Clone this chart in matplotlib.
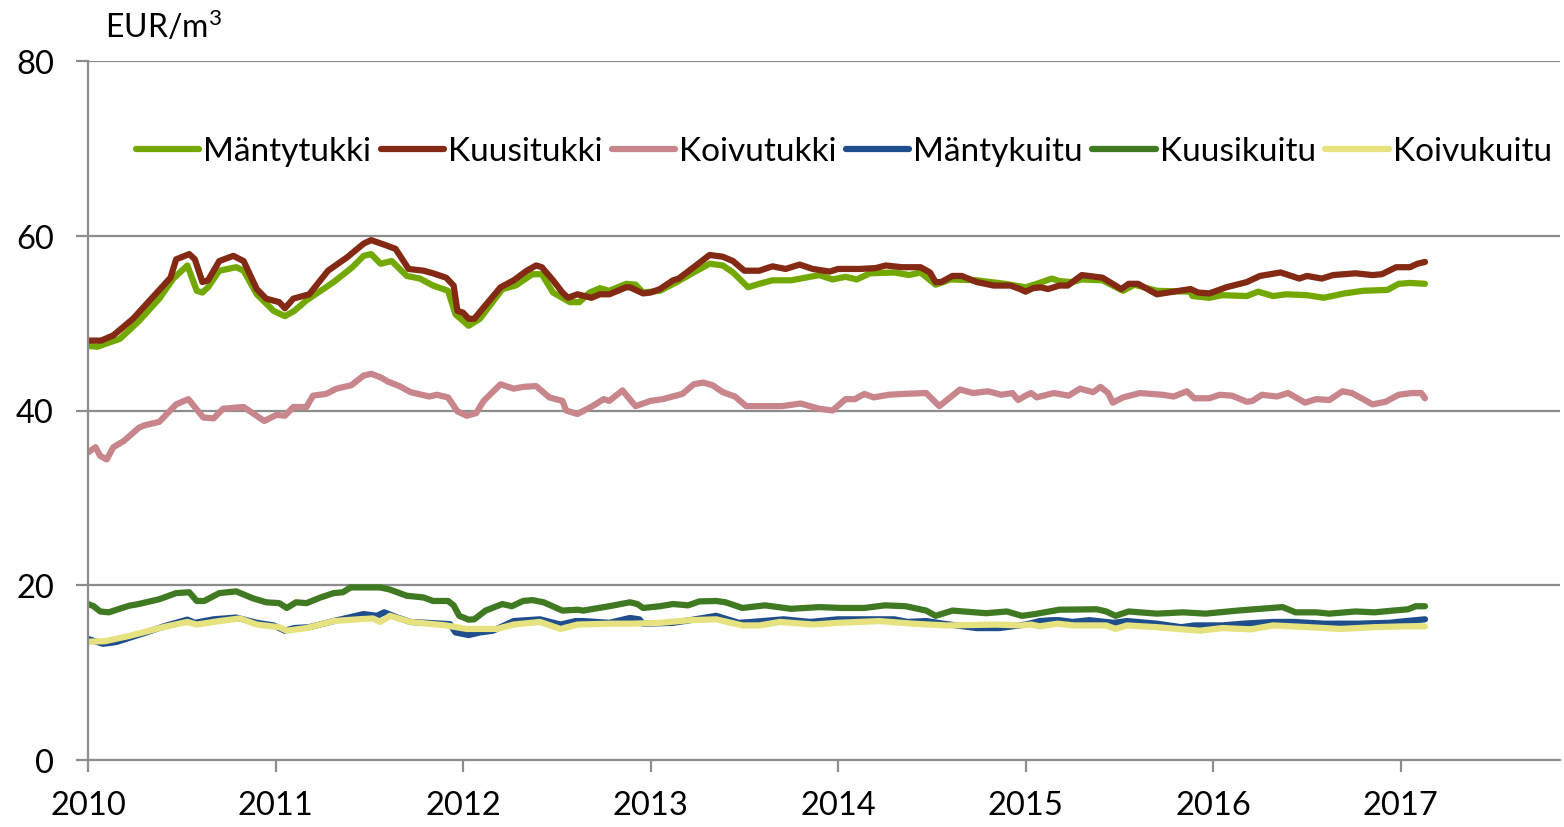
import matplotlib
matplotlib.use('Agg')
import matplotlib.pyplot as plt

# Mäntytukki
mt_t = [2010.00, 2010.05, 2010.17, 2010.27, 2010.38, 2010.455, 2010.53, 2010.58, 2010.61, 2010.64,
        2010.70, 2010.79, 2010.83, 2010.90, 2010.99, 2011.05, 2011.10, 2011.165, 2011.31, 2011.41,
        2011.47, 2011.51, 2011.56, 2011.62, 2011.70, 2011.77, 2011.84, 2011.92, 2011.96, 2012.03,
        2012.09, 2012.21, 2012.28, 2012.37, 2012.42, 2012.48, 2012.57, 2012.62, 2012.675, 2012.73,
        2012.78, 2012.87, 2012.92, 2012.96, 2013.05, 2013.14, 2013.23, 2013.315, 2013.385, 2013.44,
        2013.52, 2013.58, 2013.65, 2013.75, 2013.90, 2013.97, 2014.04, 2014.10, 2014.17, 2014.30,
        2014.38, 2014.44, 2014.52, 2014.60, 2014.74, 2014.89, 2015.00, 2015.06, 2015.14, 2015.18,
        2015.25, 2015.30, 2015.41, 2015.52, 2015.58, 2015.70, 2015.88, 2015.89, 2015.98, 2016.05,
        2016.18, 2016.24, 2016.32, 2016.39, 2016.50, 2016.59, 2016.70, 2016.80, 2016.93, 2016.99,
        2017.05, 2017.13]
mt_v = [47.4, 47.3, 48.2, 50.2, 52.8, 55.1, 56.6, 53.7, 53.5, 54.1,
        56.0, 56.4, 56.0, 53.3, 51.4, 50.8, 51.4, 52.6, 54.7, 56.4,
        57.7, 57.9, 56.8, 57.1, 55.4, 55.1, 54.3, 53.7, 51.0, 49.7,
        50.5, 53.9, 54.3, 55.6, 55.6, 53.5, 52.4, 52.4, 53.5, 54.0,
        53.7, 54.5, 54.4, 53.5, 53.7, 54.7, 55.8, 56.8, 56.6, 55.8,
        54.1, 54.5, 54.9, 54.9, 55.5, 55.0, 55.3, 55.0, 55.7, 55.8,
        55.5, 55.8, 54.4, 55.0, 54.9, 54.5, 54.1, 54.5, 55.1, 54.8,
        54.7, 55.0, 54.9, 53.7, 54.4, 53.7, 53.6, 53.1, 52.9, 53.2,
        53.1, 53.6, 53.1, 53.3, 53.2, 52.9, 53.4, 53.7, 53.8, 54.5,
        54.6, 54.5]

# Kuusitukki
kt_t = [2010.00, 2010.07, 2010.135, 2010.24, 2010.44, 2010.47, 2010.54, 2010.57, 2010.61, 2010.64,
        2010.70, 2010.775, 2010.83, 2010.90, 2010.95, 2011.02, 2011.05, 2011.095, 2011.18, 2011.28,
        2011.38, 2011.47, 2011.51, 2011.59, 2011.64, 2011.71, 2011.79, 2011.84, 2011.91, 2011.95,
        2011.97, 2012.00, 2012.03, 2012.06, 2012.11, 2012.20, 2012.27, 2012.34, 2012.39, 2012.42,
        2012.48, 2012.53, 2012.56, 2012.61, 2012.685, 2012.73, 2012.78, 2012.87, 2012.89, 2012.96,
        2013.00, 2013.05, 2013.12, 2013.15, 2013.23, 2013.315, 2013.385, 2013.44, 2013.50, 2013.58,
        2013.65, 2013.72, 2013.795, 2013.865, 2013.955, 2014.00, 2014.115, 2014.20, 2014.255, 2014.34,
        2014.44, 2014.49, 2014.52, 2014.55, 2014.61, 2014.66, 2014.74, 2014.83, 2014.92, 2014.97,
        2015.00, 2015.04, 2015.08, 2015.12, 2015.18, 2015.225, 2015.30, 2015.41, 2015.51, 2015.55,
        2015.60, 2015.70, 2015.79, 2015.88, 2015.92, 2015.98, 2016.07, 2016.18, 2016.25, 2016.36,
        2016.46, 2016.50, 2016.58, 2016.64, 2016.76, 2016.85, 2016.90, 2016.976, 2017.05, 2017.09,
        2017.13]
kt_v = [48.0, 48.0, 48.6, 50.5, 55.2, 57.3, 57.9, 57.3, 54.7, 54.9,
        57.1, 57.7, 57.1, 53.9, 52.8, 52.4, 51.7, 52.8, 53.3, 56.0,
        57.5, 59.1, 59.5, 58.9, 58.5, 56.2, 56.0, 55.7, 55.2, 54.3,
        51.4, 51.2, 50.5, 50.5, 51.8, 54.1, 54.9, 56.0, 56.6, 56.4,
        54.9, 53.5, 52.9, 53.3, 52.9, 53.3, 53.3, 54.1, 54.1, 53.4,
        53.5, 53.9, 54.9, 55.1, 56.4, 57.8, 57.6, 57.1, 56.0, 56.0,
        56.5, 56.2, 56.7, 56.2, 55.9, 56.2, 56.2, 56.3, 56.6, 56.4,
        56.4, 55.8, 54.7, 54.7, 55.4, 55.4, 54.7, 54.3, 54.3, 53.9,
        53.6, 54.0, 54.1, 53.9, 54.3, 54.3, 55.5, 55.2, 53.9, 54.5,
        54.5, 53.3, 53.6, 53.9, 53.5, 53.4, 54.1, 54.7, 55.4, 55.8,
        55.1, 55.4, 55.1, 55.5, 55.7, 55.5, 55.6, 56.4, 56.4, 56.8,
        57.0]

# Koivutukki
kvt_t = [2010.00, 2010.04, 2010.065, 2010.10, 2010.135, 2010.19, 2010.27, 2010.30, 2010.38, 2010.47,
         2010.535, 2010.615, 2010.67, 2010.72, 2010.83, 2010.94, 2011.005, 2011.05, 2011.095, 2011.165,
         2011.20, 2011.27, 2011.325, 2011.405, 2011.47, 2011.51, 2011.56, 2011.60, 2011.66, 2011.72,
         2011.82, 2011.86, 2011.92, 2011.97, 2012.02, 2012.07, 2012.11, 2012.20, 2012.27, 2012.32,
         2012.39, 2012.46, 2012.53, 2012.55, 2012.61, 2012.69, 2012.75, 2012.78, 2012.85, 2012.92,
         2013.00, 2013.065, 2013.17, 2013.23, 2013.28, 2013.33, 2013.385, 2013.45, 2013.51, 2013.62,
         2013.70, 2013.80, 2013.90, 2013.97, 2014.04, 2014.09, 2014.14, 2014.19, 2014.27, 2014.35,
         2014.47, 2014.54, 2014.65, 2014.72, 2014.80, 2014.87, 2014.93, 2014.96, 2015.00, 2015.03,
         2015.06, 2015.15, 2015.23, 2015.29, 2015.36, 2015.40, 2015.44, 2015.465, 2015.52, 2015.61,
         2015.73, 2015.79, 2015.86, 2015.90, 2015.98, 2016.035, 2016.10, 2016.18, 2016.21, 2016.26,
         2016.34, 2016.40, 2016.49, 2016.55, 2016.62, 2016.69, 2016.74, 2016.80, 2016.85, 2016.92,
         2016.99, 2017.06, 2017.11, 2017.13]
kvt_v = [35.2, 35.8, 34.8, 34.4, 35.8, 36.5, 38.0, 38.3, 38.7, 40.7,
         41.3, 39.2, 39.1, 40.2, 40.4, 38.8, 39.5, 39.4, 40.4, 40.4,
         41.7, 41.9, 42.5, 42.9, 44.0, 44.2, 43.8, 43.3, 42.8, 42.1,
         41.6, 41.8, 41.5, 39.9, 39.4, 39.7, 41.1, 43.0, 42.5, 42.7,
         42.8, 41.5, 41.1, 40.0, 39.6, 40.5, 41.3, 41.1, 42.3, 40.5,
         41.1, 41.3, 41.9, 43.0, 43.2, 42.9, 42.1, 41.6, 40.5, 40.5,
         40.5, 40.8, 40.2, 40.0, 41.3, 41.3, 41.9, 41.5, 41.8, 41.9,
         42.0, 40.5, 42.4, 42.0, 42.2, 41.8, 42.0, 41.2, 41.7, 42.0,
         41.5, 42.0, 41.7, 42.5, 42.1, 42.7, 42.0, 40.9, 41.5, 42.0,
         41.8, 41.6, 42.2, 41.4, 41.4, 41.8, 41.7, 41.0, 41.1, 41.8,
         41.6, 42.0, 40.9, 41.3, 41.2, 42.2, 42.0, 41.3, 40.7, 41.0,
         41.8, 42.0, 42.0, 41.4]

# Mäntykuitu
mk_t = [2010.00, 2010.08, 2010.15, 2010.31, 2010.42, 2010.53, 2010.57, 2010.67, 2010.79, 2010.90,
        2010.99, 2011.05, 2011.10, 2011.18, 2011.31, 2011.47, 2011.54, 2011.58, 2011.65, 2011.72,
        2011.93, 2011.96, 2012.03, 2012.09, 2012.16, 2012.27, 2012.41, 2012.52, 2012.60, 2012.64,
        2012.78, 2012.89, 2012.94, 2012.96, 2013.12, 2013.21, 2013.35, 2013.47, 2013.54, 2013.71,
        2013.85, 2014.00, 2014.16, 2014.30, 2014.37, 2014.47, 2014.56, 2014.74, 2014.86, 2015.00,
        2015.075, 2015.14, 2015.18, 2015.25, 2015.34, 2015.47, 2015.54, 2015.70, 2015.83, 2015.90,
        2016.05, 2016.16, 2016.32, 2016.43, 2016.59, 2016.77, 2016.94, 2017.03, 2017.13]
mk_v = [13.85, 13.3, 13.5, 14.6, 15.4, 16.06, 15.7, 16.1, 16.3, 15.7,
        15.4, 14.8, 15.1, 15.2, 15.9, 16.7, 16.5, 16.9, 16.3, 15.8,
        15.55, 14.6, 14.3, 14.6, 14.8, 15.9, 16.1, 15.5, 15.9, 15.9,
        15.7, 16.25, 16.1, 15.6, 15.7, 16.0, 16.5, 15.7, 15.8, 16.1,
        15.8, 16.1, 16.1, 16.1, 15.8, 15.9, 15.6, 15.1, 15.1, 15.5,
        15.9, 16.0, 16.0, 15.8, 16.0, 15.7, 15.9, 15.6, 15.2, 15.4,
        15.4, 15.6, 15.8, 15.8, 15.6, 15.6, 15.7, 15.9, 16.1]

# Kuusikuitu
kk_t = [2010.00, 2010.03, 2010.065, 2010.11, 2010.22, 2010.27, 2010.38, 2010.47, 2010.54, 2010.58,
        2010.62, 2010.70, 2010.79, 2010.88, 2010.95, 2011.02, 2011.06, 2011.11, 2011.165, 2011.24,
        2011.31, 2011.36, 2011.40, 2011.47, 2011.56, 2011.61, 2011.70, 2011.79, 2011.84, 2011.92,
        2011.95, 2011.98, 2012.03, 2012.06, 2012.12, 2012.21, 2012.26, 2012.32, 2012.37, 2012.43,
        2012.53, 2012.61, 2012.64, 2012.78, 2012.89, 2012.93, 2012.96, 2013.05, 2013.12, 2013.20,
        2013.26, 2013.35, 2013.40, 2013.49, 2013.61, 2013.75, 2013.90, 2014.02, 2014.14, 2014.25,
        2014.36, 2014.47, 2014.52, 2014.61, 2014.79, 2014.90, 2014.98, 2015.05, 2015.075, 2015.18,
        2015.38, 2015.43, 2015.48, 2015.55, 2015.70, 2015.84, 2015.96, 2016.13, 2016.25, 2016.37,
        2016.44, 2016.55, 2016.62, 2016.76, 2016.86, 2016.96, 2017.04, 2017.08, 2017.13]
kk_v = [17.85, 17.6, 17.0, 16.9, 17.66, 17.85, 18.4, 19.1, 19.2, 18.2,
        18.2, 19.1, 19.3, 18.5, 18.05, 17.95, 17.4, 18.05, 17.95, 18.6,
        19.1, 19.2, 19.75, 19.75, 19.75, 19.5, 18.8, 18.6, 18.2, 18.2,
        17.7, 16.5, 16.06, 16.1, 17.1, 17.85, 17.6, 18.2, 18.3, 18.05,
        17.1, 17.2, 17.1, 17.6, 18.05, 17.85, 17.4, 17.6, 17.85, 17.7,
        18.15, 18.2, 18.05, 17.4, 17.7, 17.3, 17.5, 17.4, 17.4, 17.7,
        17.6, 17.1, 16.5, 17.1, 16.8, 17.0, 16.5, 16.7, 16.8, 17.2,
        17.25, 17.0, 16.5, 17.0, 16.75, 16.9, 16.75, 17.1, 17.3, 17.5,
        16.9, 16.9, 16.75, 17.0, 16.9, 17.1, 17.25, 17.6, 17.6]

# Koivukuitu
kvk_t = [2010.00, 2010.09, 2010.22, 2010.40, 2010.53, 2010.58, 2010.70, 2010.81, 2010.90, 2011.02,
         2011.06, 2011.165, 2011.31, 2011.44, 2011.52, 2011.56, 2011.61, 2011.72, 2011.91, 2012.02,
         2012.18, 2012.27, 2012.41, 2012.52, 2012.61, 2012.78, 2012.90, 2013.05, 2013.21, 2013.35,
         2013.49, 2013.58, 2013.69, 2013.87, 2014.00, 2014.22, 2014.40, 2014.58, 2014.84, 2014.98,
         2015.03, 2015.075, 2015.17, 2015.26, 2015.43, 2015.48, 2015.54, 2015.70, 2015.84, 2015.93,
         2016.05, 2016.20, 2016.32, 2016.51, 2016.68, 2016.86, 2017.03, 2017.13]
kvk_v = [13.54, 13.6, 14.2, 15.2, 15.8, 15.5, 15.9, 16.2, 15.5, 15.2,
         14.8, 15.1, 15.9, 16.1, 16.2, 15.8, 16.5, 15.8, 15.4, 15.0,
         15.0, 15.5, 15.8, 15.0, 15.5, 15.6, 15.6, 15.7, 16.0, 16.1,
         15.4, 15.4, 15.8, 15.5, 15.7, 15.9, 15.6, 15.4, 15.5, 15.4,
         15.5, 15.3, 15.6, 15.4, 15.4, 15.0, 15.4, 15.2, 14.95, 14.8,
         15.1, 14.95, 15.4, 15.2, 15.0, 15.2, 15.3, 15.3]

years = [2010, 2011, 2012, 2013, 2014, 2015, 2016, 2017]

plt.rcParams['font.family'] = ['Lato', 'DejaVu Sans']
plt.rcParams['mathtext.fontset'] = 'custom'
plt.rcParams['mathtext.rm'] = 'Lato'
plt.rcParams['mathtext.it'] = 'Lato:italic'

fig = plt.figure(figsize=(15.64, 8.28), dpi=100)
ax = fig.add_axes([88 / 1564, 67 / 828, 1472 / 1564, 699 / 828])

lw = 4.5
series = [
    (mt_t, mt_v, '#72a800', 'Mäntytukki'),
    (kt_t, kt_v, '#842a14', 'Kuusitukki'),
    (kvt_t, kvt_v, '#c8868c', 'Koivutukki'),
    (mk_t, mk_v, '#1f4e8c', 'Mäntykuitu'),
    (kk_t, kk_v, '#3f7a22', 'Kuusikuitu'),
    (kvk_t, kvk_v, '#e6e27f', 'Koivukuitu'),
]
for t, v, c, name in series:
    ax.plot(t, v, color=c, linewidth=lw, label=name, solid_capstyle='round', solid_joinstyle='round')

ax.set_xlim(2010, 2017.85)
ax.set_ylim(0, 80)
ax.set_yticks([0, 20, 40, 60, 80])
ax.set_xticks(years)
ax.set_xticklabels([str(y) for y in years])
ax.grid(axis='y', color='#8c8c8c', linewidth=1.6)
ax.set_axisbelow(True)
for s in ['top', 'right']:
    ax.spines[s].set_visible(False)
for s in ['left', 'bottom']:
    ax.spines[s].set_color('#8c8c8c')
    ax.spines[s].set_linewidth(1.6)
ax.tick_params(axis='both', colors='#8c8c8c', length=8.5, width=1.6, labelsize=23.5, labelcolor='black')
ax.tick_params(axis='y', pad=16)
ax.tick_params(axis='x', pad=13)

fig.text(105 / 1564, 1 - 27 / 828, r'$\mathregular{EUR/m^3}$', fontsize=23, va='center', ha='left')

ax.legend(loc='center', bbox_to_anchor=(0.5135, 0.871), ncol=6, frameon=False, fontsize=24,
          handlelength=1.9, handletextpad=0.12, columnspacing=0.28)

fig.savefig('out.png', dpi=100)
